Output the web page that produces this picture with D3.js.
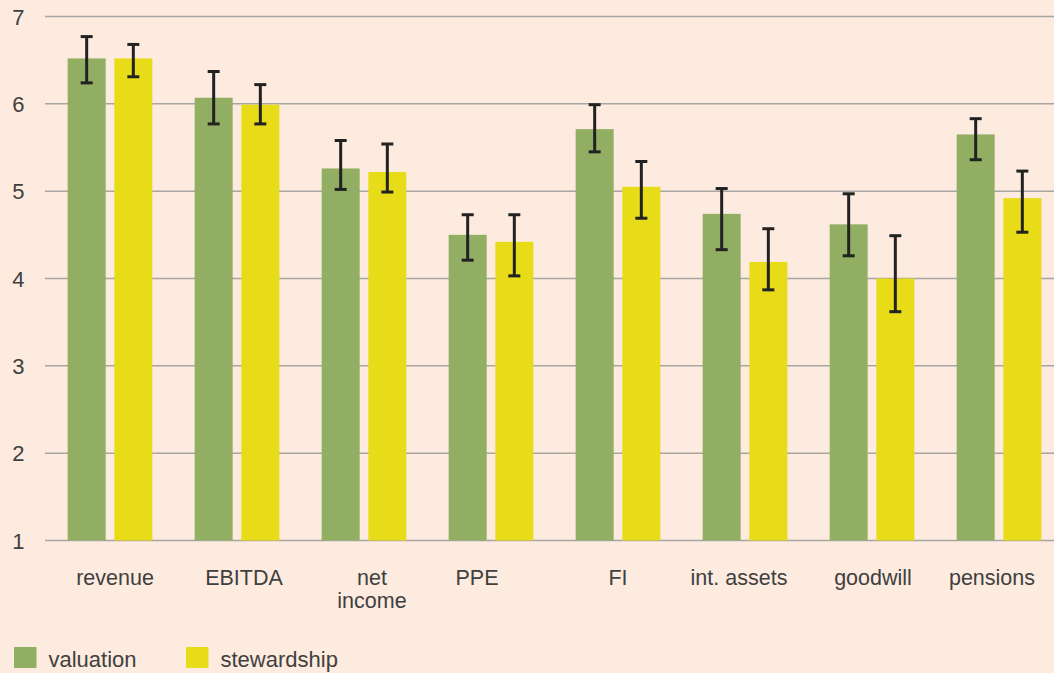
<!DOCTYPE html>
<html>
<head>
<meta charset="utf-8">
<script src="https://cdn.jsdelivr.net/npm/d3@7"></script>
<style>
  html, body { margin: 0; padding: 0; background: #FDEBDF; }
  svg { display: block; }
  text { font-family: "Liberation Sans", Arial, Helvetica, sans-serif; fill: #404040; }
</style>
</head>
<body>
<svg id="chart" width="1054" height="673"></svg>
<script>
const categories = ["revenue", "EBITDA", "net\nincome", "PPE", "FI", "int. assets", "goodwill", "pensions"];
const seriesNames = ["valuation", "stewardship"];
const valuation     = [6.52, 6.07, 5.26, 4.50, 5.71, 4.74, 4.62, 5.65];
const valuationLow  = [6.24, 5.77, 5.02, 4.21, 5.45, 4.33, 4.26, 5.36];
const valuationHigh = [6.77, 6.37, 5.58, 4.73, 5.99, 5.03, 4.97, 5.83];
const stewardship     = [6.52, 5.99, 5.22, 4.42, 5.05, 4.19, 4.00, 4.92];
const stewardshipLow  = [6.31, 5.77, 4.99, 4.03, 4.69, 3.87, 3.62, 4.53];
const stewardshipHigh = [6.68, 6.22, 5.54, 4.73, 5.34, 4.57, 4.49, 5.23];
const yTicks = [1, 2, 3, 4, 5, 6, 7];
const colors = ["#91AE62", "#E8DB18"];
// layout: small horizontal nudges of category labels (px)
const labelNudge = [5, 7, 8, -14, 0, -6, 1, -7];

const svg = d3.select("#chart");
const W = 1054, H = 673;
svg.append("rect").attr("width", W).attr("height", H).attr("fill", "#FDEBDF");

const y = d3.scaleLinear().domain([1, 7]).range([540.5, 16.5]);
const x = d3.scaleBand().domain(categories).range([46.5, 1062.5]).paddingInner(0).paddingOuter(0);
const sub = d3.scaleBand().domain(seriesNames).range([-42, 42]).paddingInner(0.2).paddingOuter(0);

// gridlines
svg.append("g").selectAll("line").data(yTicks).join("line")
  .attr("x1", 45).attr("x2", W)
  .attr("y1", d => y(d)).attr("y2", d => y(d))
  .attr("stroke", "#A9A5A2").attr("stroke-width", 1.5);

// y tick labels
svg.append("g").selectAll("text").data(yTicks).join("text")
  .attr("x", 24.5).attr("y", d => y(d) + 8)
  .attr("text-anchor", "end")
  .attr("font-size", 22)
  .text(d => d);

const series = [
  { name: "valuation", vals: valuation, lo: valuationLow, hi: valuationHigh, color: colors[0] },
  { name: "stewardship", vals: stewardship, lo: stewardshipLow, hi: stewardshipHigh, color: colors[1] }
];

const barW = 38;
series.forEach(s => {
  const g = svg.append("g");
  const data = categories.map((c, i) => ({ c, v: s.vals[i], lo: s.lo[i], hi: s.hi[i] }));
  g.selectAll("rect").data(data).join("rect")
    .attr("x", d => x(d.c) + x.bandwidth() / 2 + sub(s.name) + (sub.bandwidth() - barW) / 2)
    .attr("width", barW)
    .attr("y", d => y(d.v))
    .attr("height", d => y(1) - y(d.v))
    .attr("fill", s.color);
});

// error bars
series.forEach(s => {
  const g = svg.append("g").attr("stroke", "#222").attr("stroke-width", 3).attr("fill", "none");
  categories.forEach((c, i) => {
    const cx = x(c) + x.bandwidth() / 2 + sub(s.name) + sub.bandwidth() / 2;
    g.append("line").attr("x1", cx).attr("x2", cx).attr("y1", y(s.hi[i])).attr("y2", y(s.lo[i]));
    g.append("line").attr("x1", cx - 6).attr("x2", cx + 6).attr("y1", y(s.hi[i])).attr("y2", y(s.hi[i]));
    g.append("line").attr("x1", cx - 6).attr("x2", cx + 6).attr("y1", y(s.lo[i])).attr("y2", y(s.lo[i]));
  });
});

// x labels (each line its own text element)
const xl = svg.append("g");
categories.forEach((c, i) => {
  const cx = x(c) + x.bandwidth() / 2 + labelNudge[i];
  c.split("\n").forEach((ln, j) => {
    xl.append("text")
      .attr("x", cx)
      .attr("y", 585 + j * 22.5)
      .attr("text-anchor", "middle")
      .attr("font-size", 21.5)
      .text(ln);
  });
});

// legend
const leg = svg.append("g");
const legX = [14, 186];
seriesNames.forEach((n, i) => {
  leg.append("rect").attr("x", legX[i]).attr("y", 647).attr("width", 22.5).attr("height", 21).attr("fill", colors[i]);
  leg.append("text").attr("x", legX[i] + 34.5).attr("y", 667).attr("font-size", 22).text(n);
});
</script>
</body>
</html>
